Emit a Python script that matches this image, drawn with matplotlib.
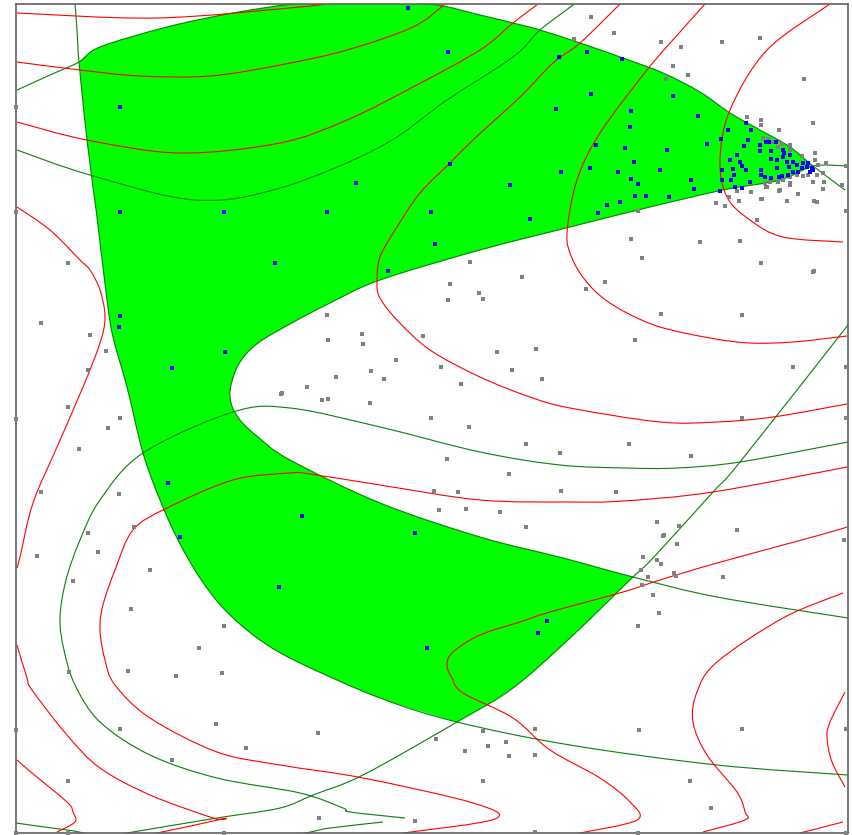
import numpy as np
import matplotlib
matplotlib.use("Agg")
import matplotlib.pyplot as plt
from matplotlib.path import Path
from matplotlib.patches import PathPatch

# ---- feasible region, split into its four sides (x right / y down) ----
region_top = [(79, 62), (100, 47), (167, 27), (233, 13), (293, 4), (350, 0), (430, 4),
              (480, 15), (513, 23), (540, 30), (580, 43), (623, 58), (663, 73), (700, 92),
              (730, 113), (760, 130), (790, 147), (813, 166)]
region_inner = [(813, 166), (780, 180), (723, 190), (650, 207), (570, 227), (480, 250),
                (380, 280), (330, 303), (290, 324), (258, 343), (240, 362), (231, 385),
                (231, 403), (240, 420), (258, 437), (290, 460), (380, 503), (480, 537),
                (563, 558), (633, 577)]
region_right = [(633, 577), (570, 638), (513, 688), (457, 722)]
region_outer = [(457, 722), (380, 698), (300, 663), (260, 640), (225, 610), (200, 578),
                (178, 540), (160, 500), (143, 453), (127, 387), (113, 337), (107, 300),
                (97, 217), (87, 140), (79, 62)]

# ---- level curves: green family ----
green_top = [(17, 90), (50, 75), (79, 62), (100, 47), (167, 27), (233, 13), (293, 4),
             (350, 0), (430, 4), (480, 15), (513, 23), (540, 30), (580, 43), (623, 58),
             (663, 73), (700, 92), (730, 113), (760, 130), (790, 147), (813, 166), (845, 190)]
green_left = [(75, 4), (77, 30), (79, 62), (87, 140), (97, 217), (107, 300), (113, 337),
              (127, 387), (143, 453), (160, 500), (178, 540), (200, 578), (225, 610),
              (260, 640), (300, 663), (380, 698), (457, 722), (570, 745), (717, 765),
              (848, 775)]
green_hole = [(848, 166), (813, 166), (780, 180), (723, 190), (650, 207), (570, 227),
              (480, 250), (380, 280), (330, 303), (290, 324), (258, 343), (240, 362),
              (231, 385), (231, 403), (240, 420), (258, 437), (290, 460), (380, 503),
              (480, 537), (563, 558), (633, 577), (717, 597), (848, 618)]
green_diag = [(848, 325), (740, 462), (713, 492), (653, 558), (633, 577), (570, 638),
              (513, 688), (457, 722), (363, 775), (313, 795), (280, 808), (217, 818),
              (133, 832), (110, 836)]
green_upper = [(17, 150), (90, 175), (195, 200), (280, 188), (380, 147), (447, 100),
               (513, 57), (540, 30), (573, 5), (578, 0)]
green_loop = [(848, 442), (740, 462), (677, 468), (627, 468), (560, 465), (480, 452),
              (380, 427), (290, 408), (233, 412), (143, 453), (100, 500), (80, 540),
              (66, 580), (60, 618), (64, 650), (75, 685), (100, 722), (150, 755),
              (217, 778), (300, 793), (343, 808), (350, 812), (405, 818)]
green_bottom = [(16, 823), (67, 830), (120, 836), (280, 835), (330, 828), (383, 822)]

# ---- level curves: red family ----
red_1 = [(17, 13), (157, 18), (300, 7), (330, 3)]
red_2 = [(17, 62), (80, 70), (140, 76), (210, 76), (280, 65), (347, 50), (413, 27), (445, 4)]
red_3 = [(17, 122), (87, 140), (180, 153), (280, 143), (347, 120), (413, 87), (480, 50),
         (513, 23), (538, 4)]
red_4 = [(620, 4), (580, 43), (553, 63), (520, 97), (473, 140), (450, 163), (420, 193),
         (397, 227), (380, 257), (377, 283), (380, 298), (397, 320), (430, 350), (480, 377),
         (530, 397), (570, 408), (660, 422), (717, 422), (773, 417), (847, 404)]
red_5 = [(705, 4), (680, 32), (647, 70), (600, 133), (577, 180), (567, 233), (572, 258),
         (585, 280), (603, 298), (627, 313), (660, 327), (710, 338), (750, 343), (793, 342),
         (847, 336)]
red_6 = [(830, 4), (767, 50), (730, 110), (720, 160), (727, 197), (750, 220), (783, 237),
         (843, 242)]
red_7 = [(847, 467), (713, 492), (623, 501), (570, 502), (480, 500), (380, 485), (310, 474),
         (290, 473), (233, 480), (167, 508), (133, 530), (115, 570), (103, 605), (100, 630),
         (105, 660), (115, 685), (150, 718), (217, 752), (280, 765), (363, 778), (473, 803),
         (495, 819), (403, 833)]
red_8 = [(847, 527), (820, 535), (717, 563), (660, 580), (623, 592), (550, 612), (520, 622),
         (480, 635), (453, 652), (447, 665), (452, 678), (463, 693), (513, 718), (550, 750),
         (600, 778), (630, 802), (637, 820), (580, 833)]
red_9 = [(843, 593), (783, 618), (717, 662), (697, 692), (693, 722), (707, 755), (737, 792),
         (745, 812), (745, 820), (703, 832)]
red_10 = [(845, 692), (830, 722), (827, 738), (832, 762), (845, 787)]
red_11 = [(800, 833), (843, 822)]
red_12 = [(17, 207), (50, 230), (80, 260), (90, 270), (100, 290), (105, 317), (100, 343),
          (83, 387), (57, 447), (33, 503), (20, 557), (17, 568)]
red_13 = [(17, 645), (27, 678), (32, 690), (67, 735), (100, 768), (150, 795), (213, 818),
          (222, 819), (157, 833)]
red_14 = [(17, 760), (32, 773), (67, 802), (73, 812), (75, 822), (57, 832)]

# ---- sample points ----
gray_pts = [
    (16, 107), (16, 212), (68, 263), (41, 323), (90, 335), (106, 351), (88, 370), (16, 419),
    (68, 407), (120, 418), (108, 428), (79, 449), (41, 492), (119, 494), (134, 527), (88, 533),
    (98, 552), (37, 556), (73, 581), (150, 570), (131, 609), (224, 626), (199, 648), (69, 672),
    (128, 671), (176, 676), (222, 673), (16, 730), (120, 729), (216, 724), (246, 748),
    (172, 760), (68, 781), (16, 833), (68, 833), (224, 833),
    (281, 394), (470, 262), (522, 277), (450, 284), (479, 293), (483, 299), (448, 300),
    (327, 315), (362, 334), (328, 340), (363, 344), (423, 336), (497, 352), (536, 349),
    (396, 360), (441, 367), (512, 370), (371, 371), (542, 379), (336, 377), (384, 379),
    (461, 384), (307, 387), (282, 393), (322, 400), (328, 399), (370, 403), (431, 418),
    (469, 427), (526, 444), (560, 453), (447, 459), (509, 474), (561, 491), (434, 491),
    (458, 492), (439, 510), (466, 509), (500, 512), (526, 527),
    (318, 733), (436, 739), (483, 731), (535, 729), (465, 751), (488, 746), (506, 742),
    (509, 756), (535, 755), (483, 781), (319, 818), (415, 821), (535, 832),
    (663, 536), (677, 544), (643, 557), (657, 560), (661, 564), (641, 570), (648, 577),
    (674, 573), (676, 576), (723, 577), (642, 585), (653, 595), (659, 613), (638, 626),
    (844, 540), (639, 730), (742, 729), (846, 729), (690, 781), (711, 808), (638, 833),
    (846, 833),
    (813, 272), (605, 282), (586, 289), (661, 314), (742, 315), (635, 340), (793, 367),
    (846, 367), (742, 418), (846, 418), (629, 444), (691, 456), (616, 492), (657, 522),
    (679, 526), (664, 535), (737, 530),
    (591, 17), (614, 33), (574, 39), (661, 42), (681, 47), (722, 42), (760, 38), (673, 66),
    (688, 75), (666, 79), (804, 79), (813, 123), (826, 163), (846, 166), (824, 182),
    (842, 185), (823, 189), (737, 191), (751, 192), (766, 187), (779, 191), (798, 194),
    (817, 202), (761, 199), (729, 197), (716, 203), (725, 206), (846, 211), (638, 211),
    (757, 220), (631, 239), (700, 242), (740, 241), (642, 258), (761, 263), (814, 271),
    (747, 117), (761, 120), (761, 125), (779, 130), (763, 138), (768, 139), (773, 142),
    (782, 144), (790, 145), (790, 150), (778, 147), (815, 153), (802, 156), (815, 160),
    (818, 165), (823, 173), (817, 175), (808, 175), (803, 176), (797, 175), (790, 177),
    (783, 180), (778, 182), (770, 182), (765, 183), (790, 183), (739, 201), (762, 199),
    (787, 201), (814, 201), (767, 187), (780, 190), (790, 185), (813, 182),
]

blue_pts = [
    (120, 107), (120, 212), (224, 212), (327, 212), (275, 263), (431, 212), (435, 244),
    (388, 271), (356, 183), (450, 164), (408, 8), (448, 52), (510, 185), (530, 219),
    (559, 57), (556, 109), (561, 172),
    (120, 316), (119, 327), (225, 352), (172, 368), (168, 483), (180, 537), (279, 587),
    (302, 516), (415, 533), (427, 648), (547, 621), (538, 633),
    (587, 52), (622, 59), (591, 94), (673, 96), (631, 111), (630, 127), (698, 116),
    (596, 145), (625, 148), (667, 150), (707, 144), (590, 168), (618, 172), (634, 162),
    (631, 179), (638, 184), (660, 170), (635, 196), (646, 196), (669, 197), (691, 180),
    (694, 189), (620, 202), (607, 205), (598, 213),
    (728, 130), (746, 123), (751, 130), (721, 139), (748, 140), (744, 146), (737, 155),
    (730, 160), (760, 145), (766, 142), (769, 142), (760, 151), (771, 151), (776, 142),
    (740, 162), (742, 166), (746, 170), (733, 169), (734, 175), (722, 170), (722, 180),
    (731, 180), (735, 187), (742, 188), (720, 191), (750, 182), (761, 170), (761, 175),
    (765, 177), (771, 178), (771, 159), (777, 160), (777, 168), (779, 177), (783, 150),
    (783, 157), (787, 162), (789, 167), (793, 162), (797, 165), (802, 168), (807, 167),
    (812, 168), (808, 163), (803, 163), (798, 172), (793, 172), (788, 175), (782, 176),
    (810, 172), (813, 170), (784, 153), (790, 155),
]

green_curves = [green_top, green_left, green_hole, green_diag, green_upper, green_loop,
                green_bottom]
red_curves = [red_1, red_2, red_3, red_4, red_5, red_6, red_7, red_8, red_9, red_10,
              red_11, red_12, red_13, red_14]


def bezier_segments(pts):
    """Cubic Bezier control points (Catmull-Rom tangents) through the given nodes."""
    p = np.asarray(pts, dtype=float)
    verts = [p[0]]
    for i in range(len(p) - 1):
        p0 = p[i - 1] if i > 0 else p[i]
        p1, p2 = p[i], p[i + 1]
        p3 = p[i + 2] if i + 2 < len(p) else p[i + 1]
        verts += [p1 + (p2 - p0) / 6.0, p2 - (p3 - p1) / 6.0, p2]
    return verts


def smooth_path(pts):
    verts = bezier_segments(pts)
    codes = [Path.MOVETO] + [Path.CURVE4] * (len(verts) - 1)
    return Path(verts, codes)


def smooth_closed(sides):
    verts = []
    for k, side in enumerate(sides):
        v = bezier_segments(side)
        verts += v if k == 0 else v[1:]
    codes = [Path.MOVETO] + [Path.CURVE4] * (len(verts) - 1)
    verts.append(verts[0])
    codes.append(Path.CLOSEPOLY)
    return Path(verts, codes)


W, H = 852, 835
fig = plt.figure(figsize=(W / 100, H / 100), dpi=100)
ax = fig.add_axes([16 / W, (H - 833) / H, (848 - 16) / W, (833 - 4) / H])
ax.set_xlim(16, 848)
ax.set_ylim(833, 4)
ax.set_xticks([])
ax.set_yticks([])
for s in ax.spines.values():
    s.set_color("#606060")
    s.set_linewidth(1.2)
    s.set_zorder(10)

region_path = smooth_closed([region_top, region_inner, region_right, region_outer])
ax.add_patch(PathPatch(region_path, facecolor="#00ff00", edgecolor="none", zorder=1))

for c in green_curves:
    ax.add_patch(PathPatch(smooth_path(c), facecolor="none", edgecolor="#0a7d0a",
                           lw=0.8, zorder=2))
for c in red_curves:
    ax.add_patch(PathPatch(smooth_path(c), facecolor="none", edgecolor="#ff0000",
                           lw=0.8, zorder=3))

gx, gy = zip(*gray_pts)
ax.scatter(gx, gy, marker="s", s=12, color="#808080", linewidths=0, zorder=11, clip_on=False)
bx, by = zip(*blue_pts)
ax.scatter(bx, by, marker="s", s=12, color="#0000ff", linewidths=0, zorder=12, clip_on=False)

fig.savefig("out.png", dpi=100)
